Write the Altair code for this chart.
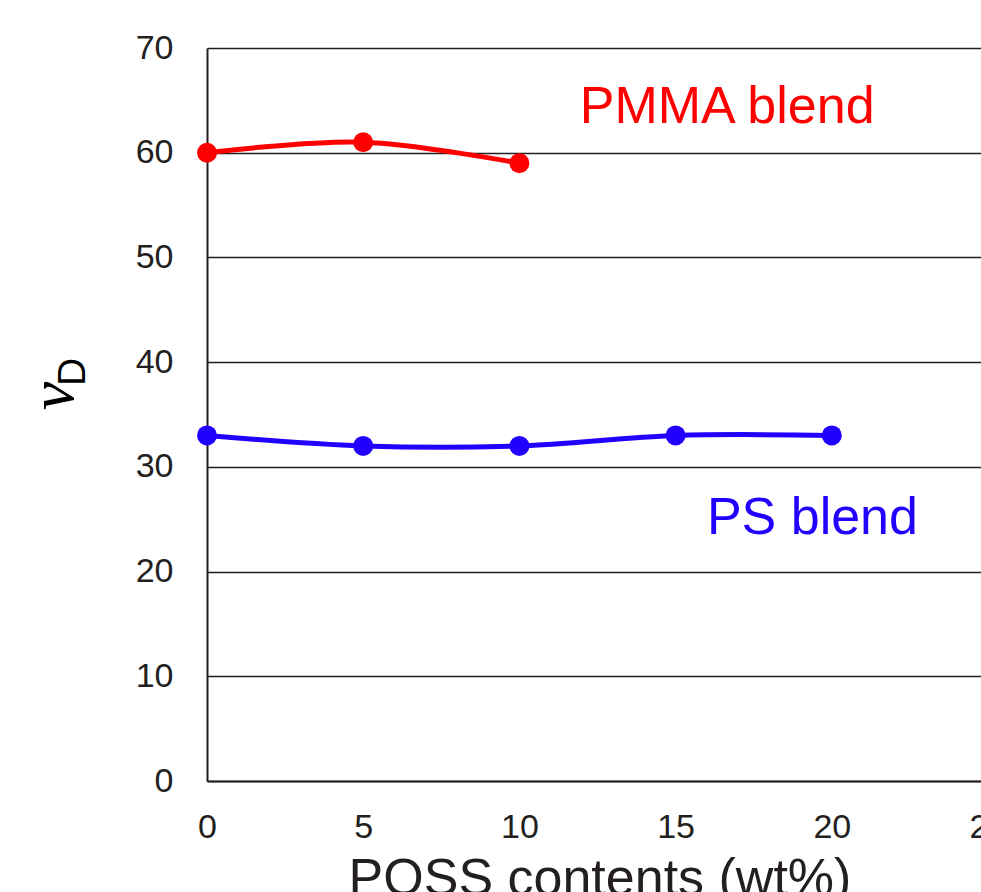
import altair as alt
import pandas as pd

# Data
poss_pmma = [0, 5, 10]
nu_pmma = [60, 61, 59]
poss_ps = [0, 5, 10, 15, 20]
nu_ps = [33, 32, 32, 33, 33]

series_names = ["PMMA blend", "PS blend"]
series_colors = ["#ff0000", "#2200ff"]

x_ticks = [0, 5, 10, 15, 20, 25]
y_ticks = [0, 10, 20, 30, 40, 50, 60, 70]

label_x = [16.65, 19.38]
label_y = [62.84, 23.59]

df = pd.DataFrame(
    {
        "x": poss_pmma + poss_ps,
        "y": nu_pmma + nu_ps,
        "series": [series_names[0]] * len(poss_pmma) + [series_names[1]] * len(poss_ps),
    }
)
lab = pd.DataFrame({"x": label_x, "y": label_y, "series": series_names})

FONT = "Liberation Sans"
INK = "#231f20"

xs = alt.Scale(domain=[0, 25], range=[0, 781], nice=False, zero=False)
ys = alt.Scale(domain=[0, 70], nice=False)
color = alt.Color("series:N", scale=alt.Scale(domain=series_names, range=series_colors), legend=None)

X = alt.X(
    "x:Q",
    scale=xs,
    axis=alt.Axis(
        values=x_ticks, ticks=False, grid=False, title=None,
        labelFontSize=34, labelPadding=29, labelColor=INK, labelFont=FONT,
        domainColor=INK, domainWidth=2, labelFlush=False, labelOverlap=False,
    ),
)
Y = alt.Y(
    "y:Q",
    scale=ys,
    axis=alt.Axis(
        values=y_ticks, ticks=False, grid=True, gridColor=INK, gridWidth=1.5, gridOpacity=1,
        title=None, labelFontSize=34, labelPadding=34, labelColor=INK, labelFont=FONT,
        domainColor=INK, domainWidth=2, labelFlush=False,
    ),
)

base = alt.Chart(df)
lines = base.mark_line(interpolate="cardinal", strokeWidth=5).encode(x=X, y=Y, color=color, detail="series:N")
pts = base.mark_point(filled=True, opacity=1, size=400).encode(x=X, y=Y, color=color)

labels = alt.Chart(lab).mark_text(fontSize=52, font=FONT, align="center", baseline="alphabetic").encode(
    x=alt.X("x:Q", scale=xs), y=alt.Y("y:Q", scale=ys), text="series:N", color=color
)

xtitle = alt.Chart(pd.DataFrame({"t": ["POSS contents (wt%)"]})).mark_text(
    fontSize=52, font=FONT, align="center", baseline="alphabetic", color=INK
).encode(x=alt.value(393), y=alt.value(847), text="t:N")

nu = alt.Chart(pd.DataFrame({"t": ["ν"]})).mark_text(
    fontSize=64, font="Liberation Serif", fontStyle="italic", angle=270,
    align="center", baseline="alphabetic", color="#000000"
).encode(x=alt.value(-134), y=alt.value(348), text="t:N")

sub = alt.Chart(pd.DataFrame({"t": ["D"]})).mark_text(
    fontSize=39, font=FONT, angle=270, align="center", baseline="alphabetic", color="#000000"
).encode(x=alt.value(-122), y=alt.value(324), text="t:N")

chart = (
    alt.layer(lines, pts, labels, xtitle, nu, sub)
    .properties(
        width=774,
        height=733,
        autosize=alt.AutoSizeParams(type="none"),
        padding={"left": 207, "top": 48, "right": 0, "bottom": 111},
        background="white",
    )
    .configure_view(stroke=None)
    .configure(font=FONT)
)

chart.save("out.html", embed_options={"renderer": "svg", "actions": False})
